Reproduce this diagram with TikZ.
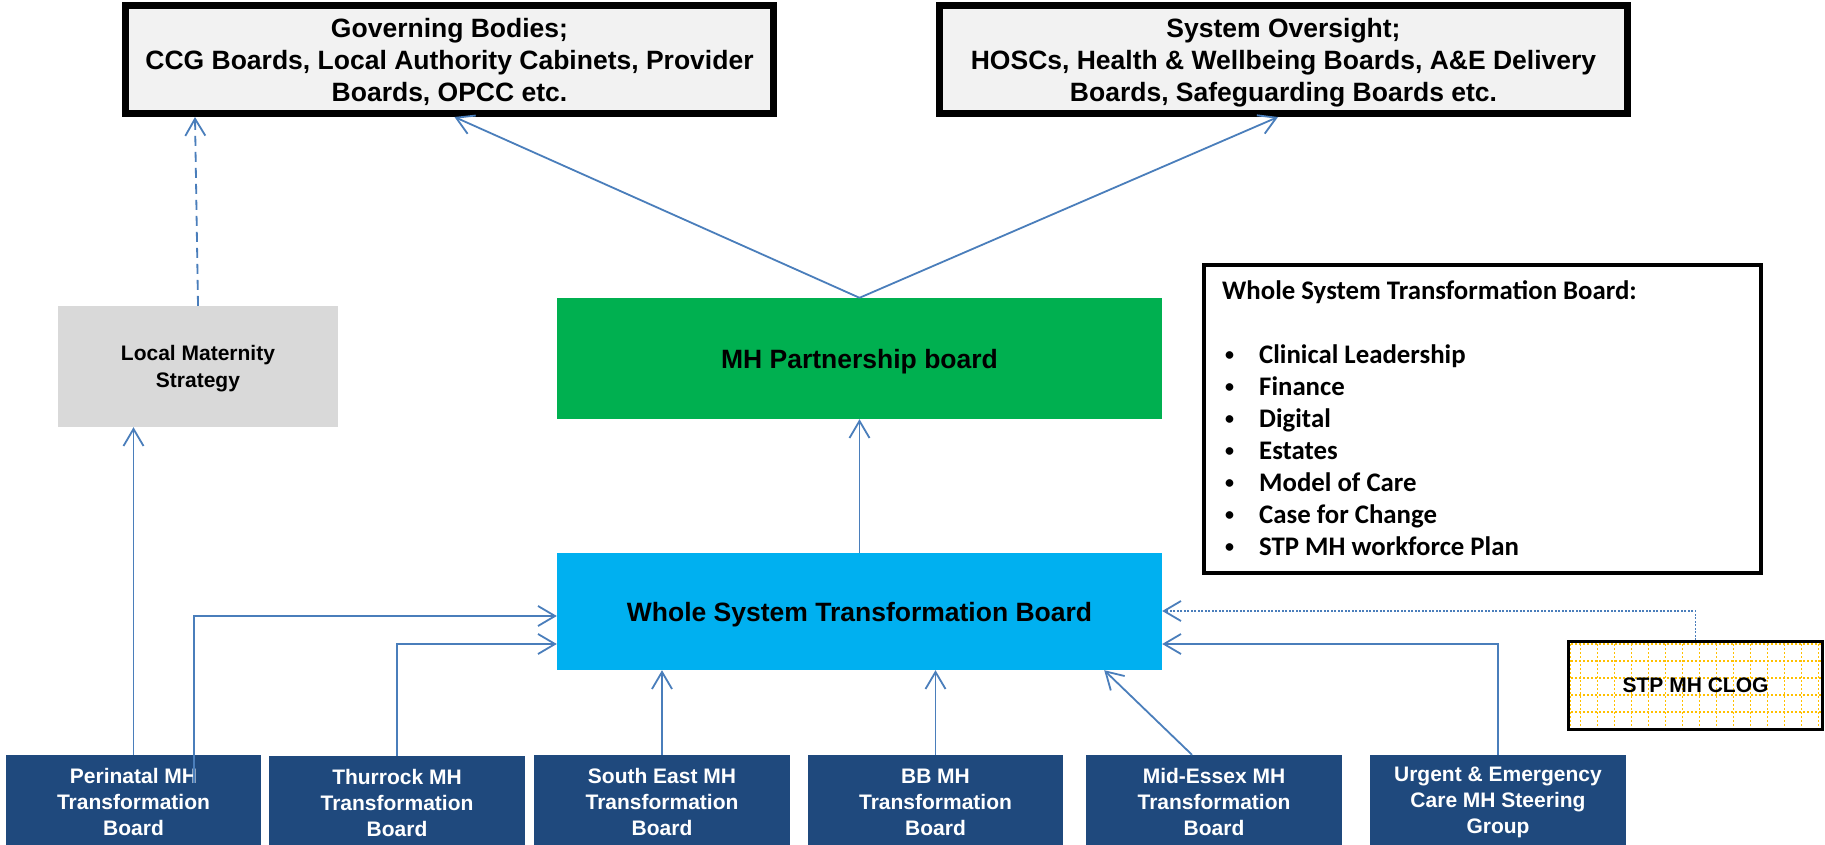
\documentclass[tikz,border=0pt]{standalone}
\usepackage{fontspec}
\setmainfont{Liberation Sans}
\newfontfamily\calfont{Carlito}
\usetikzlibrary{arrows.meta}
\definecolor{arrblue}{HTML}{4A7EBB}
\definecolor{govfill}{HTML}{F2F2F2}
\definecolor{lmsfill}{HTML}{D9D9D9}
\definecolor{mhgreen}{HTML}{00B050}
\definecolor{wstblue}{HTML}{00B0F0}
\definecolor{navy}{HTML}{1F497D}
\definecolor{gridorange}{HTML}{FFC000}
\newcommand\lbul{\hspace*{3pt}\makebox[34pt][l]{\raisebox{3pt}{\fontsize{18}{18}\selectfont •}}}
\begin{document}
\begin{tikzpicture}[x=1pt,y=-1pt,
  bigtxt/.style={font=\bfseries\fontsize{26.5}{32}\selectfont, align=center, text depth=0pt},
  topbox/.style={draw=black, line width=7pt, fill=govfill, inner sep=0pt, bigtxt},
  flatbox/.style={inner sep=0pt, minimum width=605pt},
  subbox/.style={fill=navy, text=white, inner sep=0pt, minimum width=255pt, minimum height=94pt,
    font=\bfseries\fontsize{21}{26}\selectfont, align=center},
  arr/.style={draw=arrblue, line width=1.8pt, -{Straight Barb[length=17pt,width=20pt]}},
  gridline/.style={draw=gridorange, line width=1.3pt, dash pattern=on 2pt off 2pt},
]
\clip (0,0) rectangle (1825,845);
\fill[white] (0,0) rectangle (1825,845);

% top boxes
\node[topbox, minimum width=648pt, minimum height=108pt] (gov) at (449.5,59.5)
  {Governing Bodies;\\CCG Boards, Local Authority Cabinets, Provider\\Boards, OPCC etc.};
\node[topbox, minimum width=688pt, minimum height=108pt] (so) at (1283.5,59.5)
  {System Oversight;\\HOSCs, Health \& Wellbeing Boards, A\&E Delivery\\Boards, Safeguarding Boards etc.};

% middle boxes
\node[fill=lmsfill, minimum width=280pt, minimum height=121pt, inner sep=0pt, text depth=0pt,
  font=\bfseries\fontsize{21}{27}\selectfont, align=center] (lms) at (198,366.5) {Local Maternity\\Strategy};
\node[fill=mhgreen, flatbox, minimum height=121pt, bigtxt] (mhp) at (859.5,358.5) {MH Partnership board};
\node[fill=wstblue, flatbox, minimum height=117pt, bigtxt] (wst) at (859.5,611.5) {Whole System Transformation Board};

% list box
\node[draw=black, line width=4pt, minimum width=557pt, minimum height=308pt, inner sep=0pt] (lst) at (1482.5,419) {};
\node[anchor=west, inner sep=0pt, align=left, font=\calfont\bfseries\fontsize{26.8}{32}\selectfont] (lsttxt) at (1222,418)
  {Whole System Transformation Board:\\[32pt]
   \lbul Clinical Leadership\\
   \lbul Finance\\
   \lbul Digital\\
   \lbul Estates\\
   \lbul Model of Care\\
   \lbul Case for Change\\
   \lbul STP MH workforce Plan};

% CLOG box with dotted grid
\fill[white] (1567,640) rectangle (1824,731);
\begin{scope}
  \clip (1567,640) rectangle (1824,731);
  \draw[gridline] (1570,640) -- (1570,731);
  \foreach \k in {0,...,14} {\draw[gridline] (1580.5+17*\k,640) -- (1580.5+17*\k,731);}
  \foreach \k in {0,...,5} {\draw[gridline] (1567,644+17*\k) -- (1824,644+17*\k);}
\end{scope}
\node[draw=black, line width=3pt, minimum width=254pt, minimum height=88pt, inner sep=0pt,
  font=\bfseries\fontsize{21}{25}\selectfont] (clog) at (1695.5,685.5) {STP MH CLOG};

% bottom boxes
\node[subbox] (peri) at (133.5,802) {Perinatal MH\\Transformation\\Board};
\node[subbox, minimum width=256pt] (thur) at (397,803) {Thurrock MH\\Transformation\\Board};
\node[subbox, minimum width=256pt] (se) at (662,802) {South East MH\\Transformation\\Board};
\node[subbox] (bb) at (935.5,802) {BB MH\\Transformation\\Board};
\node[subbox, minimum width=256pt] (mid) at (1214,802) {Mid-Essex MH\\Transformation\\Board};
\node[subbox, minimum width=256pt] (urg) at (1498,802) {Urgent \& Emergency\\Care MH Steering\\Group};

% connectors
\draw[arr, dash pattern=on 10pt off 6pt] (lms.north) -- ([xshift=73pt]gov.south west);
\draw[arr] (mhp.north) -- ([xshift=5pt]gov.south);
\draw[arr] (mhp.north) -- ([xshift=-5.5pt]so.south);
\draw[arr] (wst.north) -- (mhp.south);
\draw[arr] (peri.north) -- (peri.north |- lms.south);
\draw[arr] ([xshift=60.5pt,yshift=-28pt]peri.north) |- ([yshift=-4.5pt]wst.west);
\draw[arr] (thur.north) |- ([yshift=-32.5pt]wst.west);
\draw[arr] (se.north) -- (se.north |- wst.south);
\draw[arr] (bb.north) -- (bb.north |- wst.south);
\draw[arr] ([xshift=-22pt]mid.north) -- ([xshift=-58pt]wst.south east);
\draw[arr] (urg.north) |- ([yshift=-32.5pt]wst.east);
\draw[arr, dash pattern=on 2pt off 1.5pt] (clog.north) |- ([yshift=0.5pt]wst.east);
\end{tikzpicture}
\end{document}
